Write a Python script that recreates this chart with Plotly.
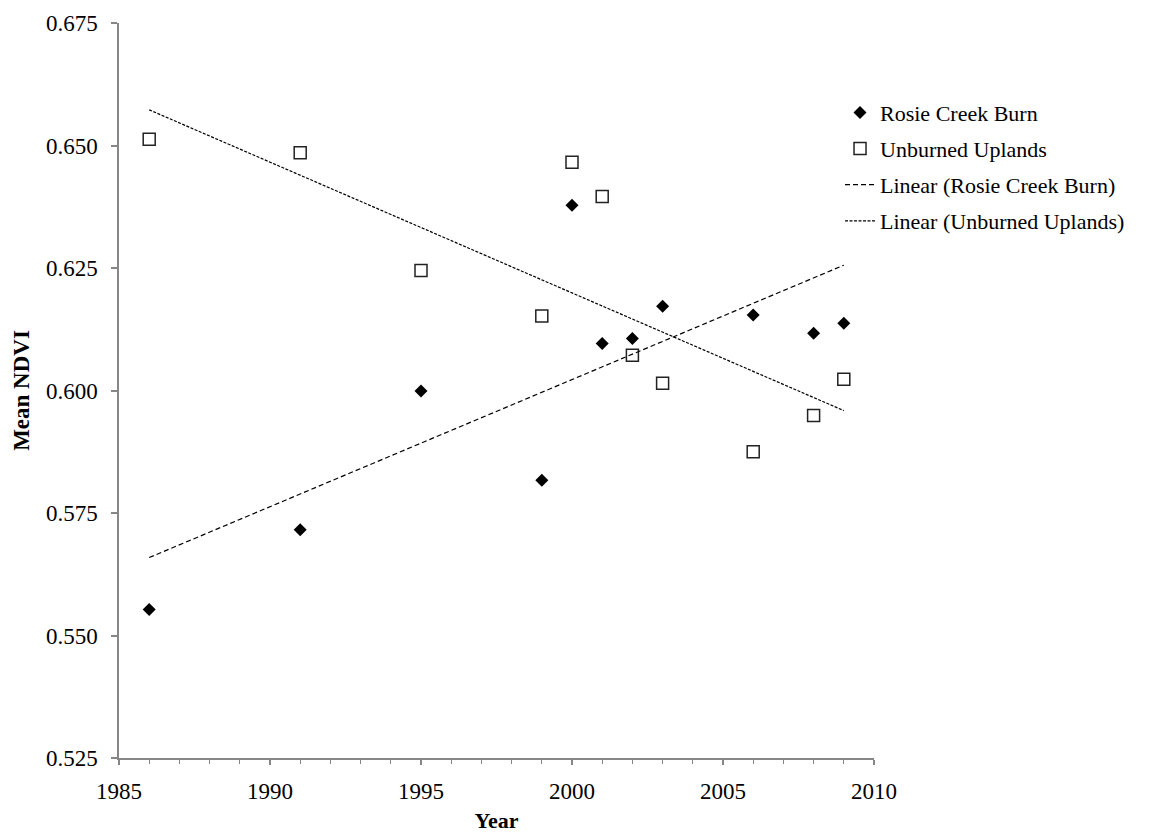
import numpy as np
import plotly.graph_objects as go

years = [1986, 1991, 1995, 1999, 2000, 2001, 2002, 2003, 2006, 2008, 2009]
rosie = [0.5553, 0.5716, 0.5999, 0.5817, 0.6378, 0.6096, 0.6106, 0.6172, 0.6154, 0.6117, 0.6137]
unburned = [0.6513, 0.6485, 0.6245, 0.6152, 0.6466, 0.6396, 0.6072, 0.6015, 0.5875, 0.5949, 0.6023]
y_ticks = [0.525, 0.550, 0.575, 0.600, 0.625, 0.650, 0.675]
x_ticks = [1985, 1990, 1995, 2000, 2005, 2010]

xs = np.array(years, dtype=float)
trend_x = [min(years), max(years)]
pr = np.polyfit(xs, rosie, 1)
pu = np.polyfit(xs, unburned, 1)
rosie_trend = list(np.polyval(pr, trend_x))
unb_trend = list(np.polyval(pu, trend_x))

FONT = "Liberation Serif"
fig = go.Figure()
fig.add_trace(go.Scatter(x=years, y=rosie, mode="markers", name="Rosie Creek Burn",
                         legendgroup="a",
                         marker=dict(symbol="diamond", size=10, color="black", line=dict(width=0))))
fig.add_trace(go.Scatter(x=years, y=unburned, mode="markers", name="Unburned Uplands",
                         legendgroup="b",
                         marker=dict(symbol="square", size=12, color="white",
                                     line=dict(width=1.5, color="#222222"))))
fig.add_trace(go.Scatter(x=trend_x, y=rosie_trend, mode="lines", name="Linear (Rosie Creek Burn)",
                         legendgroup="c",
                         line=dict(color="black", width=1.2, dash="5px,3px")))
fig.add_trace(go.Scatter(x=trend_x, y=unb_trend, mode="lines", name="Linear (Unburned Uplands)",
                         legendgroup="d",
                         line=dict(color="black", width=1.2, dash="3px,1.5px")))

fig.update_layout(
    width=1149, height=835,
    margin=dict(l=119, r=275, t=23, b=77),
    plot_bgcolor="white", paper_bgcolor="white",
    font=dict(family=FONT, size=23, color="black"),
    legend=dict(x=0.955, y=0.9065, xanchor="left", yanchor="top",
                font=dict(family=FONT, size=22), tracegroupgap=4.5,
                bgcolor="rgba(0,0,0,0)", itemwidth=30),
    showlegend=True,
)
fig.update_xaxes(
    range=[1985, 2010], tickvals=x_ticks, ticktext=[str(t) for t in x_ticks],
    showgrid=False, zeroline=False, showline=True, linecolor="#868686", linewidth=1.5,
    ticks="outside", ticklen=5, tickcolor="#868686", tickwidth=1.5,
    minor=dict(dtick=1, ticks="outside", ticklen=4, tickcolor="#868686", tickwidth=1),
    ticklabelstandoff=7, automargin=False,
    title=dict(text="<b>Year</b>", font=dict(family=FONT, size=22), standoff=9),
    tickfont=dict(family=FONT, size=23),
)
fig.update_yaxes(
    range=[0.525, 0.675], tickvals=y_ticks, ticktext=[f"{t:.3f}" for t in y_ticks],
    showgrid=False, zeroline=False, showline=True, linecolor="#868686", linewidth=1.5,
    ticks="outside", ticklen=6, tickcolor="#868686", tickwidth=1.5,
    ticklabelstandoff=9, automargin=False,
    title=dict(text="<b>Mean NDVI</b>", font=dict(family=FONT, size=23), standoff=10),
    tickfont=dict(family=FONT, size=23),
)
fig.write_html("out.html")
